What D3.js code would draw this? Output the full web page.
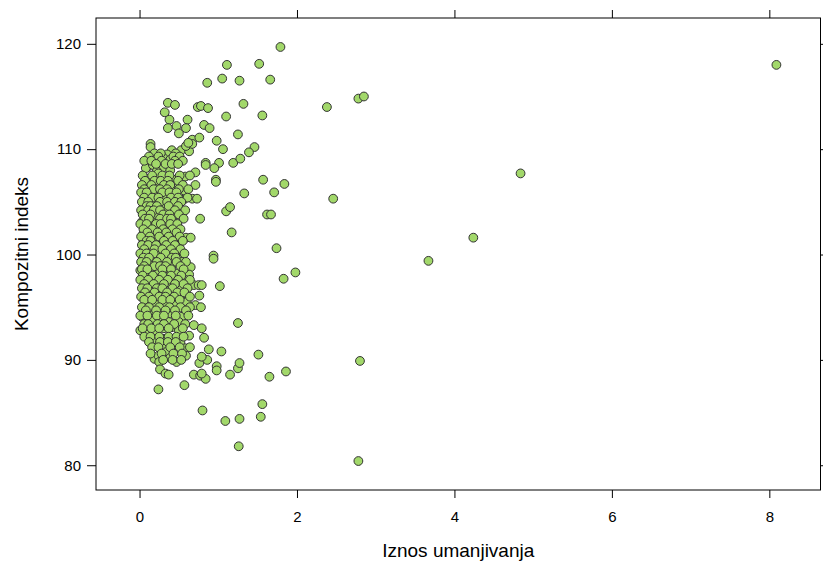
<!DOCTYPE html>
<html>
<head>
<meta charset="utf-8">
<script src="https://cdn.jsdelivr.net/npm/d3@7"></script>
<style>
  body { margin: 0; background: #fff; }
  svg text { font-family: "Liberation Sans", Arial, sans-serif; fill: #000; }
</style>
</head>
<body>
<div id="chart"></div>
<script>
// sparse points away from the main cluster
var outliers = [
    [8.09, 118.0], [4.84, 107.7], [4.24, 101.6], [3.67, 99.4], [2.80, 89.9], [2.78, 80.4],
    [2.78, 114.8], [2.85, 115.0], [2.38, 114.0], [2.46, 105.3], [1.98, 98.3], [1.83, 97.7],
    [1.79, 119.7], [1.52, 118.1], [1.11, 118.0], [0.86, 116.3], [1.05, 116.7], [1.27, 116.5],
    [1.66, 116.6], [1.32, 114.3], [1.10, 113.1], [1.56, 113.2], [1.25, 111.4], [1.46, 110.2],
    [1.39, 109.7], [1.06, 110.0], [0.98, 110.8], [1.19, 108.7], [1.28, 109.1], [1.01, 108.7],
    [0.95, 108.2], [1.57, 107.1], [1.84, 106.7], [1.33, 105.8], [1.71, 105.9], [1.10, 104.1],
    [1.15, 104.5], [1.62, 103.8], [1.67, 103.8], [1.17, 102.1], [1.74, 100.6], [0.94, 99.9],
    [0.94, 99.6], [1.02, 97.0], [1.25, 93.5], [1.51, 90.5], [1.04, 90.8], [0.88, 91.0],
    [1.65, 88.4], [1.86, 88.9], [1.56, 85.8], [1.54, 84.6], [0.80, 85.2], [1.09, 84.2],
    [1.27, 84.4], [1.26, 81.8], [0.98, 89.4], [0.98, 89.0], [1.15, 88.6], [1.25, 89.2],
    [1.27, 89.7], [0.24, 87.2], [0.57, 87.6]
];

var clusterUpper = [
    [0.36, 114.4], [0.45, 114.2], [0.74, 114.0], [0.78, 114.1], [0.87, 113.9], [0.32, 113.5],
    [0.38, 112.8], [0.61, 112.8], [0.36, 112.0], [0.47, 112.2], [0.59, 112.0], [0.82, 112.3],
    [0.89, 112.0], [0.50, 111.5], [0.67, 110.9], [0.76, 111.1], [0.14, 110.5], [0.14, 110.2],
    [0.53, 109.9], [0.63, 109.8], [0.59, 110.3], [0.67, 110.5], [0.41, 109.9], [0.35, 109.5],
    [0.30, 109.2], [0.84, 108.7], [0.97, 107.1], [0.97, 106.9], [0.62, 110.6], [0.39, 109.0],
    [0.22, 109.0], [0.18, 108.7], [0.10, 108.3], [0.24, 108.3], [0.37, 108.3], [0.08, 108.2],
    [0.17, 108.5], [0.29, 108.2], [0.22, 107.9], [0.39, 108.0], [0.84, 108.5], [0.71, 107.8],
    [0.19, 109.6], [0.27, 109.6], [0.46, 109.6], [0.12, 109.3], [0.24, 109.3], [0.43, 109.3],
    [0.51, 109.3], [0.06, 108.9], [0.15, 108.9], [0.28, 108.9], [0.45, 108.9], [0.55, 108.9],
    [0.21, 108.6], [0.33, 108.6], [0.41, 108.6], [0.49, 108.6]
];

var clusterMid = [
    [0.24, 107.7], [0.12, 107.2], [0.33, 107.2], [0.43, 107.1], [0.58, 107.4], [0.71, 106.6],
    [0.56, 106.1], [0.46, 106.6], [0.22, 106.8], [0.10, 106.4], [0.20, 105.8], [0.12, 105.7],
    [0.33, 105.5], [0.43, 106.0], [0.67, 105.3], [0.73, 105.3], [0.56, 105.2], [0.05, 104.5],
    [0.18, 104.9], [0.29, 104.7], [0.41, 104.4], [0.54, 103.9], [0.33, 104.1], [0.08, 103.8],
    [0.22, 103.6], [0.16, 103.1], [0.03, 103.1], [0.31, 103.0], [0.43, 103.0], [0.46, 103.8],
    [0.77, 103.4], [0.12, 102.6], [0.24, 102.5], [0.37, 102.3], [0.05, 102.0], [0.18, 101.9],
    [0.29, 101.5], [0.43, 101.5], [0.59, 101.6], [0.65, 101.6], [0.05, 101.2], [0.20, 101.1],
    [0.27, 100.9], [0.37, 101.2], [0.50, 100.7], [0.14, 100.3], [0.24, 99.95], [0.37, 99.8],
    [0.50, 99.6], [0.05, 99.5], [0.16, 99.2], [0.29, 99.2], [0.41, 99.0], [0.54, 99.3],
    [0.01, 98.5], [0.14, 98.4], [0.24, 98.2], [0.35, 98.2], [0.46, 98.2], [0.60, 98.4],
    [0.65, 98.8], [0.63, 98.1]
];

var fillMid = [
    [0.04, 107.5], [0.16, 107.5], [0.29, 107.5], [0.38, 107.5], [0.51, 107.5], [0.64, 107.5],
    [0.07, 107.0], [0.19, 107.0], [0.27, 107.0], [0.36, 107.0], [0.49, 107.0],
    [0.03, 106.6], [0.15, 106.6], [0.31, 106.6], [0.39, 106.6], [0.55, 106.6],
    [0.06, 106.2], [0.18, 106.2], [0.26, 106.2], [0.35, 106.2], [0.50, 106.2], [0.62, 106.2],
    [0.02, 105.9], [0.09, 105.9], [0.29, 105.9], [0.38, 105.9], [0.47, 105.9],
    [0.06, 105.4], [0.16, 105.4], [0.24, 105.4], [0.40, 105.4], [0.49, 105.4], [0.61, 105.4],
    [0.03, 105.0], [0.11, 105.0], [0.26, 105.0], [0.35, 105.0], [0.45, 105.0], [0.53, 105.0],
    [0.09, 104.6], [0.14, 104.6], [0.22, 104.6], [0.37, 104.6], [0.49, 104.6],
    [0.02, 104.2], [0.11, 104.2], [0.18, 104.2], [0.26, 104.2], [0.45, 104.2], [0.58, 104.2],
    [0.04, 103.8], [0.14, 103.8], [0.30, 103.8], [0.38, 103.8], [0.50, 103.8],
    [0.07, 103.4], [0.12, 103.4], [0.26, 103.4], [0.35, 103.4], [0.40, 103.4], [0.56, 103.4],
    [0.01, 102.9], [0.09, 102.9], [0.21, 102.9], [0.27, 102.9], [0.39, 102.9], [0.48, 102.9],
    [0.05, 102.4], [0.16, 102.4], [0.30, 102.4], [0.42, 102.4], [0.52, 102.4],
    [0.10, 102.1], [0.23, 102.1], [0.34, 102.1], [0.47, 102.1],
    [0.02, 101.7], [0.13, 101.7], [0.25, 101.7], [0.37, 101.7], [0.51, 101.7],
    [0.09, 101.3], [0.14, 101.3], [0.31, 101.3], [0.42, 101.3], [0.55, 101.3],
    [0.03, 100.9], [0.11, 100.9], [0.21, 100.9], [0.34, 100.9], [0.45, 100.9],
    [0.06, 100.5], [0.19, 100.5], [0.29, 100.5], [0.40, 100.5], [0.52, 100.5],
    [0.01, 100.1], [0.09, 100.1], [0.18, 100.1], [0.33, 100.1], [0.44, 100.1], [0.57, 100.1]
];

var clusterLower = [
    [0.08, 97.9], [0.20, 97.7], [0.33, 97.9], [0.43, 97.4], [0.58, 97.6], [0.69, 97.1],
    [0.75, 97.1], [0.79, 97.1], [0.12, 97.3], [0.24, 97.1], [0.37, 96.9], [0.50, 96.8],
    [0.14, 96.5], [0.29, 96.3], [0.41, 96.3], [0.52, 96.0], [0.76, 96.1], [0.08, 95.4],
    [0.20, 95.4], [0.33, 95.4], [0.46, 95.2], [0.60, 95.5], [0.71, 95.2], [0.78, 95.0],
    [0.03, 94.3], [0.16, 94.4], [0.27, 94.6], [0.39, 94.4], [0.54, 94.1], [0.14, 93.9],
    [0.03, 94.1], [0.16, 93.8], [0.27, 93.9], [0.37, 93.6], [0.50, 93.6], [0.01, 92.8],
    [0.10, 92.5], [0.20, 92.8], [0.31, 93.0], [0.41, 93.1], [0.50, 92.8], [0.20, 91.9],
    [0.31, 92.0], [0.41, 92.0], [0.52, 91.6], [0.58, 91.1], [0.33, 91.4], [0.46, 91.4],
    [0.35, 90.8], [0.69, 93.3], [0.79, 93.0], [0.63, 92.3], [0.82, 92.1], [0.19, 90.1],
    [0.24, 90.4], [0.25, 89.8], [0.39, 90.2], [0.47, 89.8], [0.59, 90.4], [0.26, 89.1],
    [0.33, 88.7], [0.37, 88.6], [0.69, 88.6], [0.77, 88.5], [0.84, 88.2], [0.79, 88.7],
    [0.76, 89.7], [0.86, 90.0], [0.79, 90.3]
];

var fillLower = [
    [0.05, 99.7], [0.12, 99.7], [0.27, 99.7], [0.41, 99.7], [0.46, 99.7],
    [0.02, 99.3], [0.09, 99.3], [0.22, 99.3], [0.35, 99.3], [0.47, 99.3], [0.59, 99.3],
    [0.06, 98.9], [0.19, 98.9], [0.26, 98.9], [0.33, 98.9], [0.52, 98.9],
    [0.03, 98.6], [0.10, 98.6], [0.29, 98.6], [0.40, 98.6], [0.56, 98.6],
    [0.04, 98.0], [0.17, 98.0], [0.29, 98.0], [0.40, 98.0], [0.53, 98.0],
    [0.01, 97.6], [0.11, 97.6], [0.25, 97.6], [0.36, 97.6], [0.49, 97.6], [0.64, 97.6],
    [0.06, 97.2], [0.18, 97.2], [0.31, 97.2], [0.45, 97.2], [0.56, 97.2],
    [0.03, 96.8], [0.10, 96.8], [0.22, 96.8], [0.29, 96.8], [0.42, 96.8], [0.61, 96.8],
    [0.07, 96.4], [0.19, 96.4], [0.35, 96.4], [0.48, 96.4], [0.57, 96.4],
    [0.02, 96.0], [0.12, 96.0], [0.25, 96.0], [0.33, 96.0], [0.44, 96.0], [0.64, 96.0],
    [0.06, 95.7], [0.16, 95.7], [0.29, 95.7], [0.39, 95.7], [0.51, 95.7],
    [0.03, 95.0], [0.12, 95.0], [0.25, 95.0], [0.38, 95.0], [0.52, 95.0], [0.64, 95.0],
    [0.08, 94.7], [0.21, 94.7], [0.33, 94.7], [0.45, 94.7], [0.59, 94.7],
    [0.01, 94.2], [0.10, 94.2], [0.22, 94.2], [0.31, 94.2], [0.46, 94.2], [0.62, 94.2],
    [0.06, 93.4], [0.11, 93.4], [0.23, 93.4], [0.31, 93.4], [0.44, 93.4], [0.58, 93.4],
    [0.04, 93.0], [0.15, 93.0], [0.25, 93.0], [0.37, 93.0], [0.55, 93.0],
    [0.06, 92.2], [0.14, 92.2], [0.25, 92.2], [0.37, 92.2], [0.47, 92.2], [0.56, 92.2],
    [0.12, 91.7], [0.26, 91.7], [0.36, 91.7], [0.46, 91.7],
    [0.16, 91.2], [0.24, 91.2], [0.39, 91.2], [0.51, 91.2], [0.64, 91.2],
    [0.14, 90.6], [0.28, 90.6], [0.43, 90.6], [0.54, 90.6],
    [0.30, 90.0], [0.42, 90.0], [0.53, 90.0]
];

var xTicks = [0, 2, 4, 6, 8];
var yTicks = [80, 90, 100, 110, 120];
var xTitle = 'Iznos umanjivanja';
var yTitle = 'Kompozitni indeks';

var width = 823, height = 562;
var panel = { left: 96, top: 18, right: 820.5, bottom: 490 };

var points = outliers.concat(clusterUpper, clusterMid, fillMid, clusterLower, fillLower);

var x = d3.scaleLinear().domain([-0.553, 8.65]).range([panel.left, panel.right]);
var y = d3.scaleLinear().domain([77.65, 122.45]).range([panel.bottom, panel.top]);

var svg = d3.select('#chart').append('svg')
    .attr('width', width)
    .attr('height', height);

// axes on all four sides, lattice style; labels only bottom and left
svg.append('g')
    .attr('transform', 'translate(0,' + panel.bottom + ')')
    .call(d3.axisBottom(x).tickValues(xTicks).tickSize(8).tickPadding(13).tickFormat(d3.format('d')))
    .call(styleAxis);

svg.append('g')
    .attr('transform', 'translate(0,' + panel.top + ')')
    .call(d3.axisTop(x).tickValues(xTicks).tickSize(8).tickFormat(''))
    .call(styleAxis);

svg.append('g')
    .attr('transform', 'translate(' + panel.left + ',0)')
    .call(d3.axisLeft(y).tickValues(yTicks).tickSize(9).tickPadding(6).tickFormat(d3.format('d')))
    .call(styleAxis);

svg.append('g')
    .attr('transform', 'translate(' + panel.right + ',0)')
    .call(d3.axisRight(y).tickValues(yTicks).tickSize(8).tickFormat(''))
    .call(styleAxis);

function styleAxis(g) {
    g.select('.domain').remove();
    g.selectAll('.tick line').attr('stroke', '#000').attr('stroke-width', 1);
    g.selectAll('.tick text').attr('font-size', 15).attr('fill', '#000');
}

svg.append('rect')
    .attr('x', panel.left)
    .attr('y', panel.top)
    .attr('width', panel.right - panel.left)
    .attr('height', panel.bottom - panel.top)
    .attr('fill', 'none')
    .attr('stroke', '#000')
    .attr('stroke-width', 1);

svg.append('g')
    .selectAll('circle')
    .data(points)
    .enter().append('circle')
    .attr('cx', function (d) { return x(d[0]); })
    .attr('cy', function (d) { return y(d[1]); })
    .attr('r', 4.4)
    .attr('fill', '#a2d86a')
    .attr('stroke', '#333')
    .attr('stroke-width', 1);

svg.append('text')
    .attr('x', (panel.left + panel.right) / 2)
    .attr('y', 557)
    .attr('text-anchor', 'middle')
    .attr('font-size', 19)
    .text(xTitle);

svg.append('text')
    .attr('transform', 'translate(28,' + (panel.top + panel.bottom) / 2 + ') rotate(-90)')
    .attr('text-anchor', 'middle')
    .attr('font-size', 19)
    .text(yTitle);
</script>
</body>
</html>
